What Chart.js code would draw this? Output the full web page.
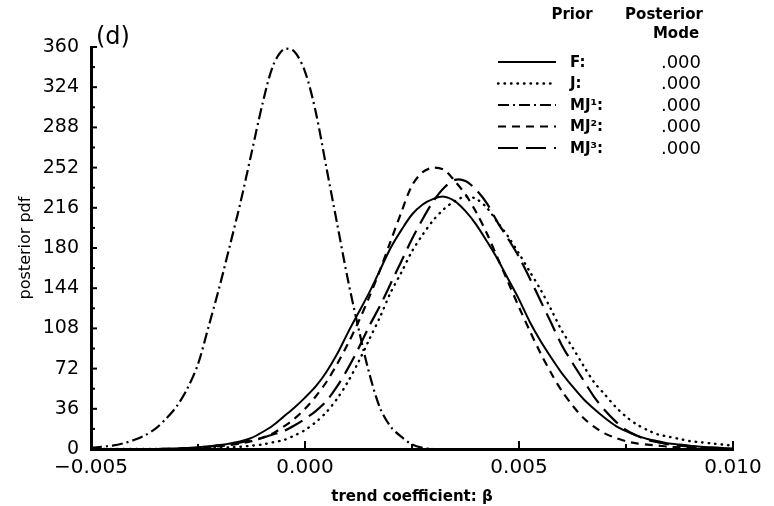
<!DOCTYPE html>
<html><head><meta charset="utf-8">
<script src="https://cdn.jsdelivr.net/npm/chart.js@4.4.1/dist/chart.umd.min.js"></script>
<style>html,body{margin:0;padding:0;background:#fff;}#wrap{width:774px;height:506px;}</style>
</head><body><div id="wrap"><canvas id="c" width="774" height="506"></canvas></div>
<script>
// trend coefficient grid (beta)
const betaGrid = [
 -0.005,-0.00475,-0.0045,-0.00425,-0.004,-0.00375,-0.0035,-0.00325,-0.003,-0.00275,
 -0.0025,-0.00225,-0.002,-0.00175,-0.0015,-0.00125,-0.001,-0.00075,-0.0005,-0.00025,
 0,0.00025,0.0005,0.00075,0.001,0.00125,0.0015,0.00175,0.002,0.00225,
 0.0025,0.00275,0.003,0.00325,0.0035,0.00375,0.004,0.00425,0.0045,0.00475,
 0.005,0.00525,0.0055,0.00575,0.006,0.00625,0.0065,0.00675,0.007,0.00725,
 0.0075,0.00775,0.008,0.00825,0.0085,0.00875,0.009,0.00925,0.0095,0.00975,
 0.010];
const pdfF = [
 0,0,0,0,0,0,0,0.5,0.5,1,
 1.5,2.5,3.5,5,7,10,15,21,29,37,
 46,56,69,85,104,122,140,160,180,196,
 210,219,224,226,222,213,201,186,170,152,
 134,114,97,82,68,56,45,36,28,21,
 16,12,9,7,5,4,3,2,1.5,1,
 0.5];
const pdfJ = [
 0,0,0,0,0,0,0,0,0,0,
 0,0.5,1,1.5,2,3,4,6,8,12,
 17,24,33,45,60,78,98,118,140,158,
 177,192,205,215,222,226,224,216,203,190,
 175,159,143,125,106,91,75,60,49,38,
 29,22,17,13,11,9,7,6,5,4,
 3];
const pdfMJ1 = [
 1,2,3,5,8,12,18,27,38,54,
 76,110,145,183,222,265,308,343,358,356,
 338,302,252,202,152,108,68,37,20,11,
 4,1,0,0,0,0,0,0,0,0,
 0,0,0,0,0,0,0,0,0,0,
 0,0,0,0,0,0,0,0,0,0,
 0];
const pdfMJ2 = [
 0,0,0,0,0,0,0,0,0,0.5,
 1,1.5,2.5,3.5,5,7,10,14,20,27,
 36,47,60,76,94,114,136,160,186,212,
 236,248,252,250,240,228,212,193,171,149,
 127,106,86,68,52,39,28,20,14,10,
 7,5,4,3,2,1.5,1,0.5,0.5,0,
 0];
const pdfMJ3 = [
 0,0,0,0,0,0,0,0,0,0.5,
 1,2,3,4,6,8,10,13,16,21,
 27,34,43,56,72,90,110,128,148,168,
 188,206,222,234,241,240,232,220,203,188,
 172,153,133,113,93,77,62,47,35,25,
 17,12,8,6,4,3,2,1,0.5,0,
 0];

const legendLabels = ['F:', 'J:', 'MJ\u00b9:', 'MJ\u00b2:', 'MJ\u00b3:'];
const posteriorModes = ['.000', '.000', '.000', '.000', '.000'];
const xTickValues = [-0.005,-0.0025,0,0.0025,0.005,0.0075,0.010];
const xTickLabels = ['\u22120.005','','0.000','','0.005','','0.010'];
const yTickValues = [0,18,36,54,72,90,108,126,144,162,180,198,216,234,252,270,288,306,324,342,360];
const yTickLabels = ['0','','36','','72','','108','','144','','180','','216','','252','','288','','324','','360'];

const seriesList = [pdfF, pdfJ, pdfMJ1, pdfMJ2, pdfMJ3];
const dashStyles = [[], [0.5,6], [11,4,2,4], [8,6], [20,8]];
const capStyles = ['butt','round','butt','butt','butt'];
const widths = [2, 2.4, 2.2, 2.2, 2.2];

const datasets = seriesList.map((s, k) => ({
  label: legendLabels[k],
  data: betaGrid.map((b, i) => ({x: b, y: s[i]})),
  borderColor: '#000',
  borderWidth: widths[k],
  borderDash: dashStyles[k],
  borderCapStyle: capStyles[k],
  pointRadius: 0,
  tension: 0.3,
  fill: false
}));

const FONT = 'DejaVu Sans';

const decorations = {
  id: 'decorations',
  afterDraw(chart) {
    const {ctx, chartArea: a, scales: {x, y}} = chart;
    ctx.save();
    ctx.strokeStyle = '#000';
    ctx.lineWidth = 2;
    ctx.setLineDash([]);
    y.ticks.forEach((t, i) => {
      const py = y.getPixelForValue(t.value);
      const len = (i % 2 === 0) ? 6 : 4;
      ctx.beginPath(); ctx.moveTo(a.left, py); ctx.lineTo(a.left + len, py); ctx.stroke();
    });
    x.ticks.forEach((t, i) => {
      const px = x.getPixelForValue(t.value);
      const len = (i % 2 === 0) ? 8 : 5;
      ctx.beginPath(); ctx.moveTo(px, a.bottom); ctx.lineTo(px, a.bottom - len); ctx.stroke();
    });
    // panel label
    ctx.fillStyle = '#000';
    ctx.font = '24px "' + FONT + '"';
    ctx.textAlign = 'left'; ctx.textBaseline = 'middle';
    ctx.fillText('(d)', 96, 38);
    // legend header
    ctx.font = 'bold 15px "' + FONT + '"';
    ctx.textAlign = 'center';
    ctx.fillText('Prior', 572, 15);
    ctx.fillText('Posterior', 664, 15);
    ctx.fillText('Mode', 676, 34);
    // legend rows
    legendLabels.forEach((lab, k) => {
      const yy = 62 + 21.5 * k;
      ctx.setLineDash(dashStyles[k]);
      ctx.lineCap = capStyles[k];
      ctx.lineWidth = widths[k];
      ctx.beginPath(); ctx.moveTo(498, yy); ctx.lineTo(556, yy); ctx.stroke();
      ctx.setLineDash([]);
      ctx.lineCap = 'butt';
      ctx.font = 'bold 15px "' + FONT + '"';
      ctx.textAlign = 'left';
      ctx.fillText(lab, 570, yy + 1);
      ctx.font = '18px "' + FONT + '"';
      ctx.textAlign = 'right';
      ctx.fillText(posteriorModes[k], 701, yy + 1);
    });
    ctx.restore();
  }
};

new Chart(document.getElementById('c'), {
  type: 'line',
  data: {datasets},
  options: {
    responsive: false,
    animation: false,
    layout: {padding: {left: 0, top: 47, right: 41, bottom: 0}},
    plugins: {legend: {display: false}, tooltip: {enabled: false}},
    scales: {
      x: {
        type: 'linear', min: -0.005, max: 0.010,
        afterBuildTicks: s => { s.ticks = xTickValues.map(v => ({value: v})); },
        afterFit: s => { s.height = 57; },
        grid: {display: false, drawTicks: false},
        border: {display: true, width: 3, color: '#000'},
        ticks: {autoSkip: false, maxRotation: 0, padding: 7, color: '#000',
          font: {family: FONT, size: 20},
          callback: (v, i) => xTickLabels[i]},
        title: {display: true, text: 'trend coefficient: \u03b2', color: '#000',
          font: {family: FONT, size: 15, weight: 'bold'}, padding: {top: 8, bottom: 0}}
      },
      y: {
        type: 'linear', min: 0, max: 360,
        afterBuildTicks: s => { s.ticks = yTickValues.map(v => ({value: v})); },
        afterFit: s => { s.width = 91; },
        grid: {display: false, drawTicks: false},
        border: {display: true, width: 3, color: '#000'},
        ticks: {autoSkip: false, padding: 12, color: '#000',
          font: {family: FONT, size: 19},
          callback: (v, i) => yTickLabels[i]},
        title: {display: true, text: 'posterior pdf', color: '#000',
          font: {family: FONT, size: 16}, padding: {top: 16, bottom: 0}}
      }
    }
  },
  plugins: [decorations]
});
</script>
</body></html>
